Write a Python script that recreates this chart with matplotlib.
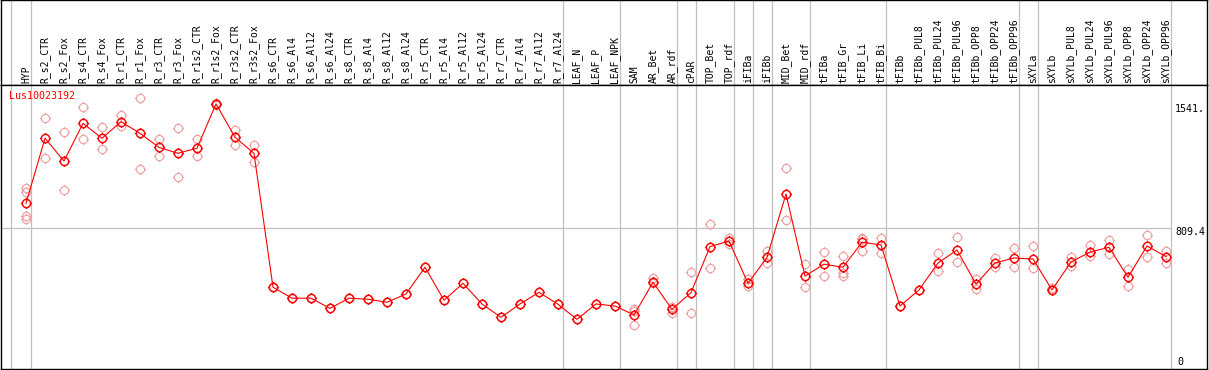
import matplotlib
matplotlib.use("Agg")
import matplotlib.pyplot as plt
from matplotlib.path import Path
import numpy as np

title = "Lus10023192"
labels = ["HYP", "R_s2_CTR", "R_s2_Fox", "R_s4_CTR", "R_s4_Fox", "R_r1_CTR", "R_r1_Fox",
          "R_r3_CTR", "R_r3_Fox", "R_r1s2_CTR", "R_r1s2_Fox", "R_r3s2_CTR", "R_r3s2_Fox",
          "R_s6_CTR", "R_s6_Al4", "R_s6_Al12", "R_s6_Al24", "R_s8_CTR", "R_s8_Al4", "R_s8_Al12",
          "R_s8_Al24", "R_r5_CTR", "R_r5_Al4", "R_r5_Al12", "R_r5_Al24", "R_r7_CTR", "R_r7_Al4",
          "R_r7_Al12", "R_r7_Al24", "LEAF_N", "LEAF_P", "LEAF_NPK", "SAM", "AR_Bet", "AR_rdf",
          "cPAR", "TOP_Bet", "TOP_rdf", "iFIBa", "iFIBb", "MID_Bet", "MID_rdf", "tFIBa",
          "tFIB_Gr", "tFIB_Li", "tFIB_Bi", "tFIBb", "tFIBb_PUL8", "tFIBb_PUL24", "tFIBb_PUL96",
          "tFIBb_OPP8", "tFIBb_OPP24", "tFIBb_OPP96", "sXYLa", "sXYLb", "sXYLb_PUL8",
          "sXYLb_PUL24", "sXYLb_PUL96", "sXYLb_OPP8", "sXYLb_OPP24", "sXYLb_OPP96"]

means = [953, 1338, 1203, 1426, 1338, 1436, 1367, 1284, 1249, 1279, 1541, 1344, 1249,
         457, 392, 392, 332, 392, 386, 368, 417, 575, 380, 480, 358, 279, 358, 427, 356,
         267, 358, 346, 293, 486, 326, 425, 697, 730, 480, 634, 1008, 523, 593, 575, 723,
         707, 346, 441, 600, 677, 476, 600, 630, 624, 441, 606, 665, 693, 516, 701, 638]

replicates = [
    [1046, 1018, 878, 862], [1456, 1219], [1373, 1032], [1521, 1332], [1403, 1273],
    [1476, 1410], [1574, 1154], [1332, 1233], [1397, 1107], [1332, 1233],
    [1536, 1546], [1387, 1298], [1298, 1196],
    [457], [392], [392], [332], [392], [386], [368], [417], [575], [380], [480], [358],
    [279], [358], [427], [356], [267], [358], [346],
    [328, 234, 316], [510, 480], [342, 306], [545, 303], [831, 569], [750, 713],
    [504, 464], [673, 599], [1160, 856], [593, 458], [664, 523], [643, 543, 523],
    [750, 673, 740], [746, 658], [346], [441], [659, 553], [754, 606], [506, 447],
    [630, 577], [689, 577], [701, 571], [452, 441], [636, 583], [707, 641], [736, 652],
    [563, 466], [766, 634], [671, 602]]

# indices of the last column in each group (vertical separators)
group_ends = [0, 28, 31, 34, 35, 37, 38, 39, 41, 45, 52, 53, 60]

W, H = 1209, 370
fig = plt.figure(figsize=(W / 100, H / 100), dpi=100)

def px_box(x0, y0, x1, y1):
    return [x0 / W, 1 - y1 / H, (x1 - x0) / W, (y1 - y0) / H]

hdr = fig.add_axes(px_box(1, 0, 1207, 85))
ax = fig.add_axes(px_box(1, 85, 1207, 369))

xlim = ((1 - 26) / 19, (1207 - 26) / 19)
scale = 0.1691  # px per unit
ylim = (-(369 - 364.5) / scale, (364.5 - 85) / scale)

for a in (hdr, ax):
    a.set_xlim(*xlim)
    a.set_xticks([])
    a.set_yticks([])
    for s in a.spines.values():
        s.set_color("black")
        s.set_linewidth(1.0)
hdr.set_ylim(0, 1)
ax.set_ylim(*ylim)

grid_c = "#c0c0c0"
sep_x = [-0.805] + [g + 0.265 for g in group_ends]
for xv in sep_x:
    for a in (hdr, ax):
        a.axvline(xv, color=grid_c, lw=0.9, zorder=1)
ax.plot([xlim[0], group_ends[-1] + 0.265], [809.4, 809.4], color=grid_c, lw=0.9, zorder=1)

x = np.arange(len(labels))
for i, lab in enumerate(labels):
    hdr.text(i, 0.027, lab, rotation=90, ha="center", va="bottom",
             family="DejaVu Sans Mono", fontsize=7)

# marker: circle (polygon) with four short outward ticks
r = 0.76
th = np.linspace(0, 2 * np.pi, 41)
cverts = np.column_stack([r * np.cos(th), r * np.sin(th)])
circ = Path(cverts, [Path.MOVETO] + [Path.LINETO] * 39 + [Path.CLOSEPOLY])
ticks = [Path([[r, 0], [1, 0]], [Path.MOVETO, Path.LINETO]),
         Path([[-r, 0], [-1, 0]], [Path.MOVETO, Path.LINETO]),
         Path([[0, r], [0, 1]], [Path.MOVETO, Path.LINETO]),
         Path([[0, -r], [0, -1]], [Path.MOVETO, Path.LINETO])]
mk = Path.make_compound_path(circ, *ticks)

rep_c = "#f0a0a0"
for i, reps in enumerate(replicates):
    ax.plot([i] * len(reps), reps, linestyle="none", marker=mk, markersize=7.8,
            markerfacecolor="none", markeredgecolor=rep_c, markeredgewidth=0.85, zorder=2)

ax.plot(x, means, color="#ff0000", lw=0.8, zorder=3)
ax.plot(x, means, linestyle="none", marker=mk, markersize=7.8, markerfacecolor="none",
        markeredgecolor="#ff0000", markeredgewidth=1.05, zorder=4)

tx = (1175 - 26) / 19
ax.text(tx, 1541, "1541.", ha="left", va="top", family="DejaVu Sans Mono", fontsize=7.2)
ax.text(tx, 809.4 + 5, "809.4", ha="left", va="top", family="DejaVu Sans Mono", fontsize=7.2)
ax.text(tx + 0.15, -14, "0", ha="left", va="bottom", family="DejaVu Sans Mono", fontsize=7.2)

ax.text((9.3 - 26) / 19, (364.5 - 91) / scale, title, ha="left", va="top", color="#ff0000",
        family="DejaVu Sans Mono", fontsize=7.2)

fig.savefig("out.png", dpi=100)
